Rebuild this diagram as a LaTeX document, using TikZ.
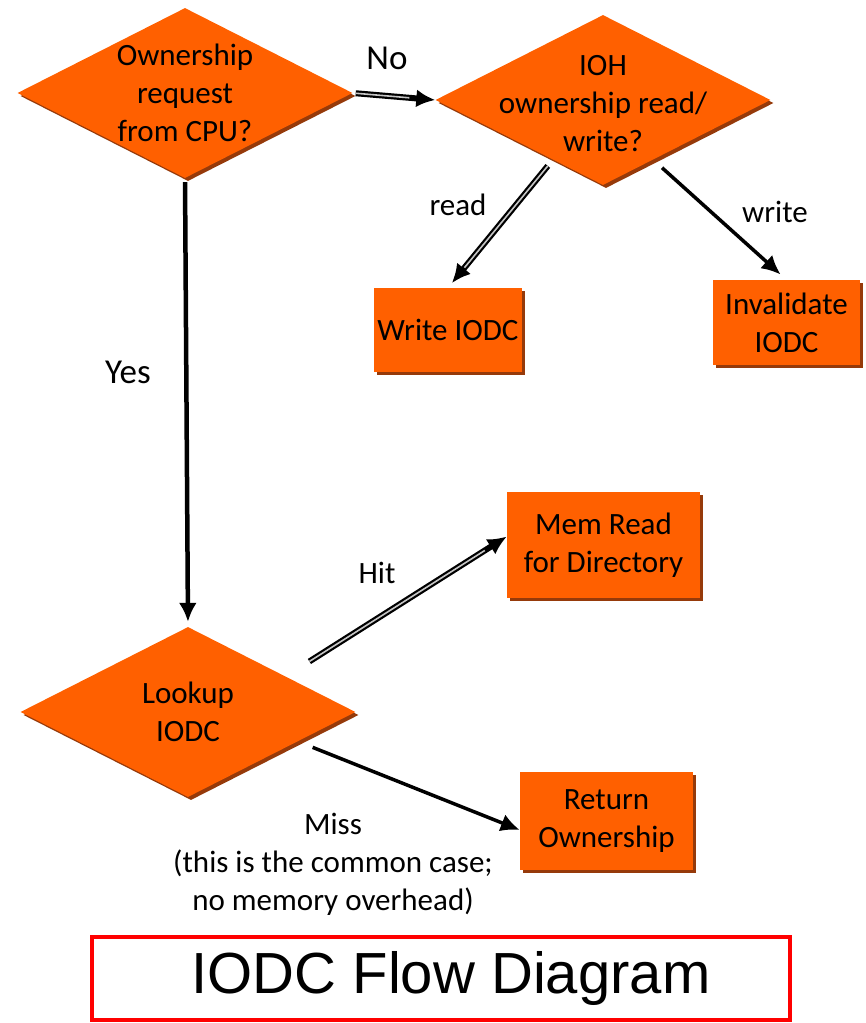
\documentclass[tikz,border=0pt]{standalone}
\usepackage{fontspec}
\setmainfont{Carlito}
\newfontfamily\titlefont{Liberation Sans}
\usetikzlibrary{shapes.geometric,shadows,arrows.meta}
\definecolor{boxorange}{RGB}{255,96,0}
\definecolor{boxshadow}{RGB}{150,58,10}
\begin{document}
\begin{tikzpicture}[x=1pt,y=1pt,
    txt/.style={font=\fontsize{31}{38}\selectfont,align=center},
    decision/.style={diamond,fill=boxorange,inner sep=0pt,minimum width=335pt,minimum height=170pt,
      drop shadow={shadow xshift=3pt,shadow yshift=-3pt,fill=boxshadow,opacity=1}},
    action/.style={rectangle,txt,fill=boxorange,inner sep=0pt,
      drop shadow={shadow xshift=3pt,shadow yshift=-3pt,fill=boxshadow,opacity=1}},
    arr/.style={line width=3.5pt,-{Latex[length=19pt,width=18pt]}},
    dblarr/.style={arr,line width=6pt,postaction={draw=gray!45,line width=1.6pt,-,shorten >=26pt}}]
  \useasboundingbox (0,0) rectangle (865,-1023);
  \node[decision,label={[txt]center:{Ownership\\request\\from CPU?}}] (own) at (185,-93) {};
  \node[decision,label={[txt,yshift=-4pt]center:{IOH\\ownership read/\\write?}}] (ioh) at (603,-100) {};
  \node[decision,label={[txt]center:{Lookup\\IODC}}] (look) at (188,-712) {};
  \node[action,minimum width=148pt,minimum height=84pt] (wr) at (448,-330) {Write IODC};
  \node[action,minimum width=147pt,minimum height=85pt] (inv) at (786.5,-322.5) {Invalidate\\IODC};
  \node[action,minimum width=193pt,minimum height=106pt] (mem) at (603.5,-545) {Mem Read\\for Directory};
  \node[action,minimum width=173pt,minimum height=98pt] (ret) at (606.5,-821) {Return\\Ownership};
  \node[draw=red,fill=white,line width=4pt,minimum width=698pt,minimum height=83pt,
    drop shadow={shadow xshift=2pt,shadow yshift=-2pt,fill=gray!60,opacity=1},
    font=\titlefont\fontsize{58}{60}\selectfont] (title) at (441,-978.5) {\hspace*{20pt}IODC Flow Diagram};
  \draw[dblarr,shorten <=3pt] (own.east) -- (ioh.west);
  \draw[arr,line width=4.5pt,shorten <=4pt,shorten >=5pt] (own.south) -- (look.north);
  \draw[dblarr,shorten <=8pt,shorten >=6pt] (ioh.-130) -- (wr.north);
  \draw[arr,shorten <=12pt,shorten >=8pt] (ioh.-50) -- (inv.north);
  \draw[dblarr,shorten <=28pt] (look.20) -- (mem.175);
  \draw[arr,shorten <=16pt] (look.-15) -- ([yshift=-9pt]ret.west);
  \node[font=\fontsize{35}{40}\selectfont] (no) at (387,-58) {No};
  \node[font=\fontsize{35}{40}\selectfont] (yes) at (128,-372) {Yes};
  \node[txt] (rd) at (458,-205) {read};
  \node[txt] (wt) at (775,-212) {write};
  \node[txt] (hit) at (377,-573) {Hit};
  \node[txt] (miss) at (333,-864) {Miss\\(this is the common case;\\no memory overhead)};
\end{tikzpicture}
\end{document}
